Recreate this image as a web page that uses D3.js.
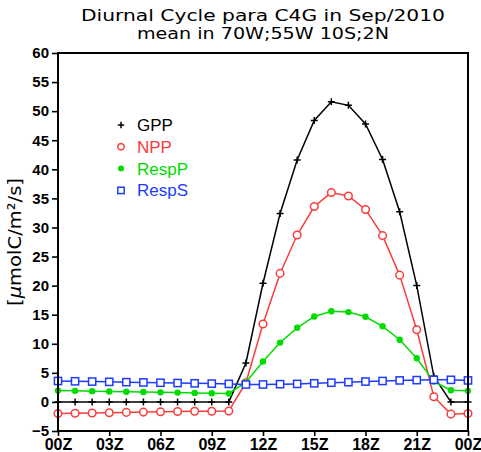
<!DOCTYPE html>
<html>
<head>
<meta charset="utf-8">
<script src="https://cdn.jsdelivr.net/npm/d3@7"></script>
<style>
  body { margin: 0; background: #fff; }
  svg { display: block; }
</style>
</head>
<body>
<div id="wrapper"></div>
<script>
// data
const hours = [0,1,2,3,4,5,6,7,8,9,10,11,12,13,14,15,16,17,18,19,20,21,22,23,24]
const gpp   = [0,0,0,0,0,0,0,0,0,0,0,6.7,20.4,32.4,41.6,48.4,51.6,51.0,47.8,41.7,32.7,20.0,4.4,0,0]
const npp   = [-2.0,-1.95,-1.9,-1.85,-1.8,-1.75,-1.7,-1.65,-1.6,-1.6,-1.55,3.3,13.4,22.1,28.7,33.6,36.0,35.4,33.1,28.6,21.8,12.4,0.9,-2.1,-2.0]
const respP = [1.95,1.9,1.85,1.8,1.75,1.7,1.65,1.6,1.55,1.5,1.45,3.4,6.95,10.2,12.75,14.7,15.6,15.45,14.65,13.0,10.7,7.5,3.5,2.0,1.9]
const respS = [3.6,3.55,3.5,3.45,3.4,3.35,3.3,3.25,3.2,3.15,3.1,3.0,3.0,3.05,3.1,3.2,3.3,3.4,3.5,3.6,3.7,3.75,3.8,3.8,3.7]
const seriesNames = ["GPP", "NPP", "RespP", "RespS"]
const xTicks = [0,3,6,9,12,15,18,21,24]
const xTickLabels = ["00Z","03Z","06Z","09Z","12Z","15Z","18Z","21Z","00Z"]
const yTicks = [-5,0,5,10,15,20,25,30,35,40,45,50,55,60]

function drawChart() {
  const dimensions = {
    width: 481,
    height: 452,
    margin: { top: 53, right: 13, bottom: 21, left: 58 }
  }
  dimensions.boundedWidth = dimensions.width - dimensions.margin.left - dimensions.margin.right
  dimensions.boundedHeight = dimensions.height - dimensions.margin.top - dimensions.margin.bottom

  const svg = d3.select("#wrapper")
    .append("svg")
    .attr("width", dimensions.width)
    .attr("height", dimensions.height)

  const bounds = svg.append("g")
    .attr("transform", `translate(${dimensions.margin.left},${dimensions.margin.top})`)

  const xScale = d3.scaleLinear().domain([0, 24]).range([0, dimensions.boundedWidth])
  const yScale = d3.scaleLinear().domain([-5, 60]).range([dimensions.boundedHeight, 0])

  // title
  const title = svg.append("g")
    .style("font-family", "DejaVu Sans, sans-serif")
    .style("font-size", "16px")
    .attr("fill", "black")
  title.append("text")
    .attr("x", 263).attr("y", 21)
    .attr("text-anchor", "middle")
    .attr("textLength", 364)
    .attr("lengthAdjust", "spacingAndGlyphs")
    .text("Diurnal Cycle para C4G in Sep/2010")
  title.append("text")
    .attr("x", 263).attr("y", 39)
    .attr("text-anchor", "middle")
    .attr("textLength", 252)
    .attr("lengthAdjust", "spacingAndGlyphs")
    .text("mean in 70W;55W 10S;2N")

  // axes
  const yAxis = d3.axisLeft(yScale).tickValues(yTicks).tickSize(6).tickPadding(3)
  const xAxis = d3.axisBottom(xScale).tickValues(xTicks).tickSize(5).tickPadding(3)
    .tickFormat((d, i) => xTickLabels[i])

  const yAxisG = bounds.append("g").call(yAxis)
  yAxisG.select(".domain").remove()
  yAxisG.selectAll("line").attr("stroke-width", 1.6)
  yAxisG.selectAll("text")
    .style("font-family", "Liberation Sans, Arial, sans-serif")
    .style("font-size", "15px")
    .style("font-weight", "bold")
    .attr("fill", "black")

  const xAxisG = bounds.append("g")
    .attr("transform", `translate(0,${dimensions.boundedHeight})`)
    .call(xAxis)
  xAxisG.select(".domain").remove()
  xAxisG.selectAll("line").attr("stroke-width", 1.6)
  xAxisG.selectAll("text")
    .style("font-family", "Liberation Sans, Arial, sans-serif")
    .style("font-size", "16px")
    .style("font-weight", "bold")
    .attr("fill", "black")

  // y axis label
  svg.append("text")
    .attr("transform", "translate(21,242) rotate(-90)")
    .attr("text-anchor", "middle")
    .attr("textLength", 128)
    .attr("lengthAdjust", "spacingAndGlyphs")
    .style("font-family", "DejaVu Sans, sans-serif")
    .style("font-size", "18px")
    .attr("fill", "black")
    .html("[<tspan font-style='italic'>μ</tspan>molC/m²/s]")

  // series
  const series = [
    { name: seriesNames[0], values: gpp,   color: "#000000", marker: "plus" },
    { name: seriesNames[1], values: npp,   color: "#fa3c3c", marker: "circle" },
    { name: seriesNames[2], values: respP, color: "#00dc00", marker: "dot" },
    { name: seriesNames[3], values: respS, color: "#1e3cff", marker: "square" }
  ]

  const line = d3.line()
    .x((d, i) => xScale(hours[i]))
    .y(d => yScale(d))

  function drawMarker(g, type, color, size) {
    if (type === "plus") {
      g.append("path")
        .attr("d", `M${-size},0H${size}M0,${-size}V${size}`)
        .attr("stroke", color).attr("stroke-width", 1.5).attr("fill", "none")
    } else if (type === "circle") {
      g.append("circle").attr("r", size)
        .attr("fill", "white").attr("stroke", color).attr("stroke-width", 1.5)
    } else if (type === "dot") {
      g.append("circle").attr("r", size).attr("fill", color)
    } else {
      g.append("rect")
        .attr("x", -size).attr("y", -size)
        .attr("width", 2 * size).attr("height", 2 * size)
        .attr("fill", "white").attr("stroke", color).attr("stroke-width", 1.5)
    }
  }

  const markerSize = { plus: 3.5, circle: 3.8, dot: 3.2, square: 3.6 }

  series.forEach(s => {
    const g = bounds.append("g")
    g.append("path")
      .datum(s.values)
      .attr("d", line)
      .attr("fill", "none")
      .attr("stroke", s.color)
      .attr("stroke-width", 1.5)
    g.selectAll(".mk")
      .data(s.values)
      .join("g")
      .attr("class", "mk")
      .attr("transform", (d, i) => `translate(${xScale(hours[i])},${yScale(d)})`)
      .each(function () { drawMarker(d3.select(this), s.marker, s.color, markerSize[s.marker]) })
  })

  // frame
  bounds.append("rect")
    .attr("x", 0).attr("y", 0)
    .attr("width", dimensions.boundedWidth)
    .attr("height", dimensions.boundedHeight)
    .attr("fill", "none")
    .attr("stroke", "black")
    .attr("stroke-width", 2)

  // legend
  const legend = svg.append("g")
  series.forEach((s, i) => {
    const y = 125 + i * 21.8
    const mg = legend.append("g").attr("transform", `translate(121,${y})`)
    drawMarker(mg, s.marker, s.color, s.marker === "dot" ? 3 : 3.2)
    legend.append("text")
      .attr("x", 137).attr("y", y + 6)
      .style("font-family", "Liberation Sans, Arial, sans-serif")
      .style("font-size", "17px")
      .attr("fill", s.color)
      .text(s.name)
  })
}
drawChart()
</script>
</body>
</html>
